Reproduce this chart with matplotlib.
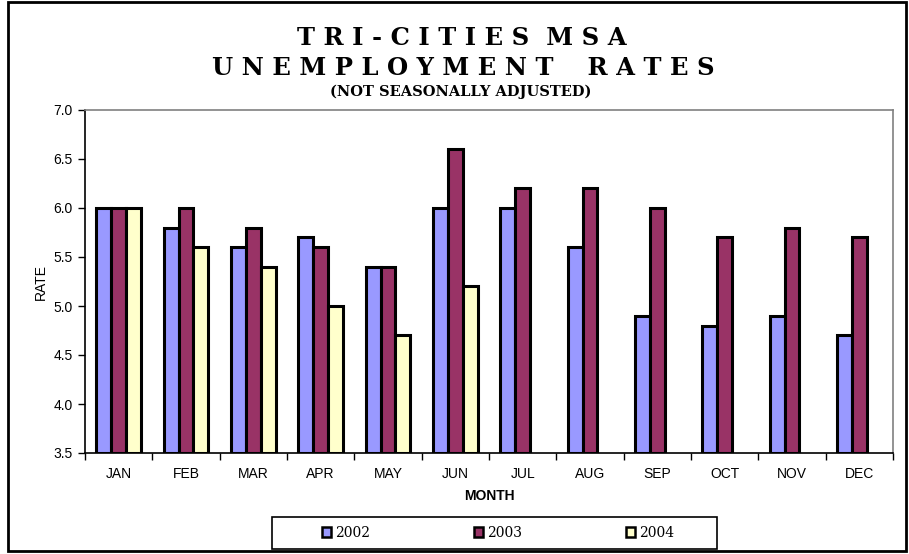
import numpy as np
import matplotlib.pyplot as plt
from matplotlib.patches import Rectangle

# data
months = ["JAN", "FEB", "MAR", "APR", "MAY", "JUN",
          "JUL", "AUG", "SEP", "OCT", "NOV", "DEC"]
rate_2002 = [6.0, 5.8, 5.6, 5.7, 5.4, 6.0, 6.0, 5.6, 4.9, 4.8, 4.9, 4.7]
rate_2003 = [6.0, 6.0, 5.8, 5.6, 5.4, 6.6, 6.2, 6.2, 6.0, 5.7, 5.8, 5.7]
rate_2004 = [6.0, 5.6, 5.4, 5.0, 4.7, 5.2]
years = ["2002", "2003", "2004"]
colors = ["#9999FF", "#993366", "#FFFFCC"]

W, H = 909, 554
fig = plt.figure(figsize=(W / 100, H / 100), dpi=100)

# outer frame
fig.patches.append(Rectangle((8 / W, 3 / H), 898 / W, 549 / H, transform=fig.transFigure,
                             fill=False, edgecolor="black", linewidth=2))

ax = fig.add_axes([85 / W, (H - 453) / H, 808 / W, 343 / H])

base = 3.5
bw = 0.22
x = np.arange(len(months))
series = [rate_2002, rate_2003, rate_2004]
for i, vals in enumerate(series):
    xs = x[:len(vals)] + (i - 1) * bw
    heights = np.array(vals) - base
    ax.bar(xs, heights, width=bw, bottom=base, color=colors[i],
           edgecolor="black", linewidth=2.2, label=years[i], zorder=3)

ax.set_xlim(-0.5, len(months) - 0.5)
ax.set_ylim(3.5, 7.0)
ax.set_yticks(np.arange(3.5, 7.01, 0.5))
ax.set_yticklabels([f"{v:.1f}" for v in np.arange(3.5, 7.01, 0.5)],
                   fontfamily="Liberation Sans", fontsize=10)
ax.set_xticks(x)
ax.set_xticklabels(months, fontfamily="Liberation Sans", fontsize=10)
ax.set_xticks(np.arange(-0.5, len(months), 1), minor=True)
ax.tick_params(axis="x", which="major", length=0, pad=10)
ax.tick_params(axis="x", which="minor", length=5, direction="out", width=1)
ax.tick_params(axis="y", length=5, direction="out", width=1, pad=4)

for s in ["left", "bottom"]:
    ax.spines[s].set_color("black")
    ax.spines[s].set_linewidth(1.2)
for s in ["top", "right"]:
    ax.spines[s].set_color("#808080")
    ax.spines[s].set_linewidth(1.2)

ax.set_ylabel("RATE", fontfamily="Liberation Sans", fontsize=10, labelpad=4)
ax.set_xlabel("MONTH", fontfamily="Liberation Sans", fontsize=10, fontweight="bold", labelpad=6)

# title
fig.text(462 / W, 1 - 38 / H, "T R I - C I T I E S  M S A", ha="center", va="center",
         fontfamily="DejaVu Serif", fontweight="bold", fontsize=17.5)
fig.text(463 / W, 1 - 68 / H, "U N E M P L O Y M E N T    R A T E S", ha="center", va="center",
         fontfamily="DejaVu Serif", fontweight="bold", fontsize=17.5)
fig.text(461 / W, 1 - 92 / H, "(NOT SEASONALLY ADJUSTED)", ha="center", va="center",
         fontfamily="DejaVu Serif", fontweight="bold", fontsize=10.5)

# legend: frame drawn separately, entries spread inside
fig.patches.append(Rectangle((272 / W, (H - 549) / H), 445 / W, 32 / H, transform=fig.transFigure,
                             fill=False, edgecolor="black", linewidth=1.2))
handles = [Rectangle((0, 0), 1, 1, facecolor=c, edgecolor="black", linewidth=1.8) for c in colors]
leg = fig.legend(handles, years, loc="center", ncol=3,
                 bbox_to_anchor=(498 / W, (H - 533) / H),
                 frameon=False, handlelength=0.65, handleheight=0.65, handletextpad=0.3,
                 columnspacing=7.45, borderaxespad=0,
                 prop={"family": "DejaVu Serif", "size": 10})

fig.savefig("out.png", dpi=100)
